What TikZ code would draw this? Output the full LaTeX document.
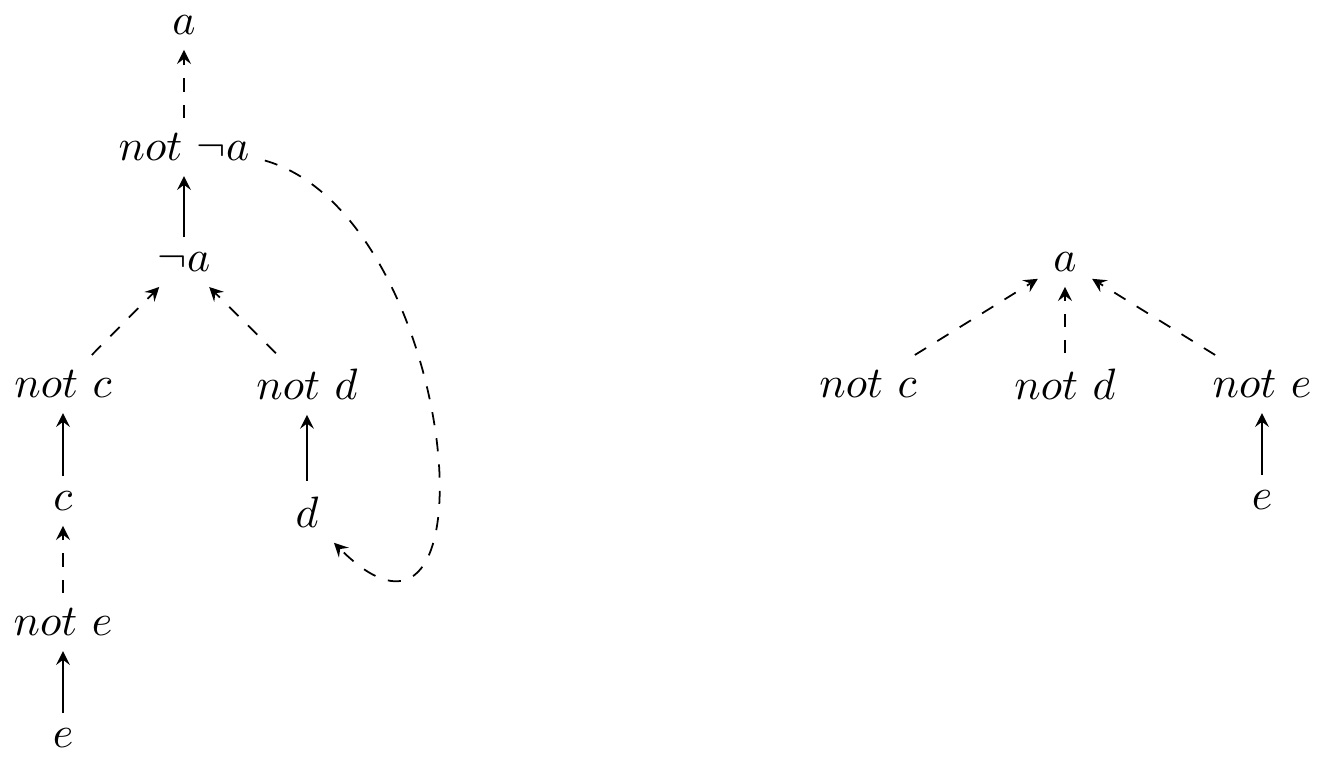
\documentclass[tikz,border=0pt]{standalone}
\usetikzlibrary{arrows}
\begin{document}
\begin{tikzpicture}[>=stealth,dep/.style={->,dashed},imp/.style={->}]
    \useasboundingbox (0,0) rectangle (10.616,-6.104);
    % left graph
    \node (a) at (1.472,-0.2) {$a$};
    \node (nna) at (1.472,-1.176) {$not\ \neg a$};
    \node (na) at (1.472,-2.096) {$\neg a$};
    \node (notc) at (0.504,-3.072) {$not\ c$};
    \node (notd) at (2.456,-3.072) {$not\ d$};
    \node (c) at (0.504,-4.008) {$c$};
    \node (d) at (2.456,-4.096) {$d$};
    \node (note) at (0.504,-4.976) {$not\ e$};
    \node (e) at (0.504,-5.904) {$e$};
    \draw[dep] (nna)--(a);
    \draw[imp] (na)--(nna);
    \draw[dep] (notc)--(na);
    \draw[dep] (notd)--(na);
    \draw[imp] (c)--(notc);
    \draw[imp] (d)--(notd);
    \draw[dep] (note)--(c);
    \draw[imp] (e)--(note);
    \draw[dep] (nna.base east) .. controls +(-16:1.62) and +(-45:1.9) .. (d.south east);
    % right graph
    \node (ra) at (8.52,-2.096) {$a$};
    \node (rnotc) at (6.944,-3.072) {$not\ c$};
    \node (rnotd) at (8.52,-3.072) {$not\ d$};
    \node (rnote) at (10.096,-3.072) {$not\ e$};
    \node (re) at (10.096,-4.0) {$e$};
    \foreach \n in {rnotc,rnotd,rnote} \draw[dep] (\n)--(ra);
    \draw[imp] (re)--(rnote);
  \end{tikzpicture}
\end{document}
